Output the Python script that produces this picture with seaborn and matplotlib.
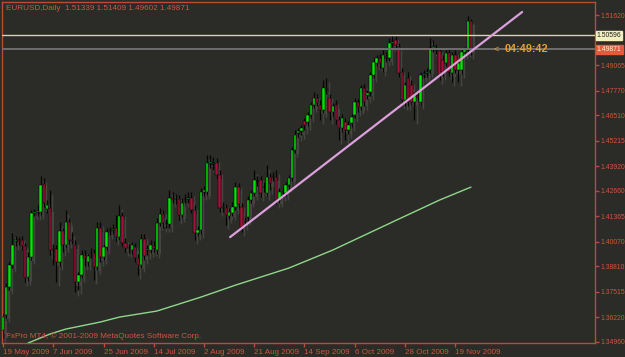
import numpy as np
import pandas as pd
import matplotlib
matplotlib.use("Agg")
import matplotlib.pyplot as plt
import seaborn as sns

# ---------------- data ----------------
opens = [1.3556, 1.3633, 1.3775, 1.3888, 1.4010, 1.4015, 1.4015, 1.3984, 1.3826, 1.3928,
         1.4153, 1.4158, 1.4158, 1.4301, 1.4173, 1.4178, 1.3969, 1.3969, 1.3903, 1.4061,
         1.3990, 1.4107, 1.4015, 1.3990, 1.3801, 1.3837, 1.3933, 1.3903, 1.3949, 1.3949,
         1.3877, 1.4076, 1.3928, 1.3979, 1.4061, 1.4066, 1.4076, 1.4030, 1.4137, 1.4000,
         1.3974, 1.3964, 1.3979, 1.3923, 1.3888, 1.4020, 1.3964, 1.3964, 1.3984, 1.3964,
         1.4102, 1.4148, 1.4102, 1.4097, 1.4229, 1.4224, 1.4224, 1.4142, 1.4224, 1.4224,
         1.4229, 1.4168, 1.4051, 1.4066, 1.4260, 1.4260, 1.4408, 1.4408, 1.4408, 1.4347,
         1.4183, 1.4178, 1.4137, 1.4153, 1.4183, 1.4285, 1.4183, 1.4107, 1.4132, 1.4219,
         1.4255, 1.4316, 1.4321, 1.4285, 1.4255, 1.4336, 1.4336, 1.4336, 1.4219, 1.4255,
         1.4255, 1.4296, 1.4331, 1.4474, 1.4561, 1.4571, 1.4622, 1.4617, 1.4653, 1.4704,
         1.4739, 1.4704, 1.4678, 1.4785, 1.4739, 1.4668, 1.4704, 1.4627, 1.4586, 1.4617,
         1.4576, 1.4612, 1.4653, 1.4719, 1.4693, 1.4790, 1.4755, 1.4770, 1.4857, 1.4918,
         1.4943, 1.4892, 1.4948, 1.4943, 1.5020, 1.5035, 1.4999, 1.4872, 1.4729, 1.4841,
         1.4806, 1.4719, 1.4749, 1.4719, 1.4857, 1.4867, 1.4882, 1.4994, 1.4984, 1.4979,
         1.4933, 1.4918, 1.4969, 1.4867, 1.4958, 1.4882, 1.4882, 1.4974, 1.4984, 1.51339]
highs = [1.3643, 1.3796, 1.3903, 1.4051, 1.4035, 1.4030, 1.4035, 1.4000, 1.3954, 1.4168,
         1.4173, 1.4193, 1.4341, 1.4331, 1.4219, 1.4270, 1.3995, 1.3990, 1.4107, 1.4076,
         1.4168, 1.4127, 1.4056, 1.4015, 1.3852, 1.3964, 1.3964, 1.3944, 1.3974, 1.3969,
         1.4107, 1.4107, 1.3995, 1.4076, 1.4081, 1.4097, 1.4142, 1.4193, 1.4158, 1.4025,
         1.3995, 1.4005, 1.4000, 1.3944, 1.4046, 1.4046, 1.3990, 1.4015, 1.4010, 1.4127,
         1.4178, 1.4168, 1.4122, 1.4270, 1.4260, 1.4250, 1.4245, 1.4229, 1.4250, 1.4260,
         1.4260, 1.4193, 1.4086, 1.4280, 1.4290, 1.4449, 1.4449, 1.4438, 1.4433, 1.4372,
         1.4209, 1.4199, 1.4178, 1.4209, 1.4311, 1.4306, 1.4204, 1.4132, 1.4239, 1.4270,
         1.4372, 1.4341, 1.4341, 1.4311, 1.4398, 1.4357, 1.4362, 1.4372, 1.4280, 1.4280,
         1.4311, 1.4347, 1.4489, 1.4576, 1.4586, 1.4602, 1.4637, 1.4668, 1.4719, 1.4770,
         1.4760, 1.4729, 1.4831, 1.4841, 1.4760, 1.4714, 1.4729, 1.4647, 1.4658, 1.4637,
         1.4622, 1.4658, 1.4739, 1.4734, 1.4806, 1.4811, 1.4780, 1.4872, 1.4943, 1.4958,
         1.4964, 1.4984, 1.4974, 1.5045, 1.5055, 1.5055, 1.5020, 1.4892, 1.4821, 1.4872,
         1.4831, 1.4770, 1.4780, 1.4872, 1.4882, 1.4892, 1.5045, 1.5035, 1.5015, 1.4994,
         1.4958, 1.4984, 1.4989, 1.4974, 1.4984, 1.4933, 1.4994, 1.4999, 1.5157, 1.51409]
lows = [1.3515, 1.3617, 1.3760, 1.3872, 1.3984, 1.3990, 1.3964, 1.3801, 1.3806, 1.3913,
        1.4137, 1.4137, 1.4142, 1.4183, 1.4153, 1.3939, 1.3888, 1.3801, 1.3882, 1.3954,
        1.3974, 1.3995, 1.3995, 1.3750, 1.3760, 1.3821, 1.3882, 1.3882, 1.3923, 1.3811,
        1.3862, 1.3903, 1.3913, 1.3964, 1.4041, 1.4046, 1.4010, 1.4015, 1.3984, 1.3954,
        1.3949, 1.3944, 1.3903, 1.3837, 1.3872, 1.3913, 1.3939, 1.3949, 1.3954, 1.3944,
        1.4086, 1.4076, 1.4076, 1.4076, 1.4204, 1.4199, 1.4117, 1.4127, 1.4204, 1.4204,
        1.4153, 1.4015, 1.4035, 1.4046, 1.4239, 1.4245, 1.4382, 1.4372, 1.4331, 1.4158,
        1.4158, 1.4091, 1.4122, 1.4137, 1.4168, 1.4178, 1.4056, 1.4086, 1.4112, 1.4204,
        1.4239, 1.4290, 1.4234, 1.4260, 1.4239, 1.4270, 1.4316, 1.4199, 1.4204, 1.4234,
        1.4239, 1.4280, 1.4316, 1.4459, 1.4540, 1.4551, 1.4576, 1.4596, 1.4637, 1.4688,
        1.4698, 1.4627, 1.4663, 1.4760, 1.4627, 1.4647, 1.4607, 1.4525, 1.4566, 1.4525,
        1.4556, 1.4591, 1.4637, 1.4668, 1.4678, 1.4698, 1.4734, 1.4749, 1.4841, 1.4902,
        1.4892, 1.4872, 1.4923, 1.4928, 1.4999, 1.4989, 1.4846, 1.4709, 1.4698, 1.4698,
        1.4704, 1.4627, 1.4729, 1.4704, 1.4841, 1.4846, 1.4867, 1.4974, 1.4964, 1.4831,
        1.4851, 1.4902, 1.4851, 1.4821, 1.4867, 1.4821, 1.4862, 1.4958, 1.4969, 1.49602]
closes = [1.3622, 1.3775, 1.3888, 1.3990, 1.4015, 1.4010, 1.3984, 1.3821, 1.3928, 1.4153,
          1.4158, 1.4163, 1.4296, 1.4204, 1.4193, 1.3964, 1.3964, 1.3903, 1.4061, 1.3990,
          1.4107, 1.4015, 1.4010, 1.3801, 1.3837, 1.3939, 1.3923, 1.3933, 1.3947, 1.3877,
          1.4076, 1.3928, 1.3979, 1.4056, 1.4058, 1.4071, 1.4030, 1.4137, 1.4000, 1.3974,
          1.3972, 1.3990, 1.3923, 1.3888, 1.4020, 1.3933, 1.3969, 1.3990, 1.3974, 1.4102,
          1.4148, 1.4102, 1.4100, 1.4229, 1.4224, 1.4226, 1.4142, 1.4204, 1.4226, 1.4229,
          1.4168, 1.4051, 1.4066, 1.4260, 1.4270, 1.4408, 1.4413, 1.4403, 1.4347, 1.4178,
          1.4181, 1.4142, 1.4158, 1.4183, 1.4285, 1.4199, 1.4081, 1.4105, 1.4219, 1.4255,
          1.4321, 1.4318, 1.4255, 1.4287, 1.4336, 1.4306, 1.4334, 1.4219, 1.4260, 1.4257,
          1.4296, 1.4331, 1.4474, 1.4551, 1.4571, 1.4586, 1.4602, 1.4653, 1.4704, 1.4739,
          1.4714, 1.4678, 1.4790, 1.4780, 1.4668, 1.4698, 1.4627, 1.4586, 1.4637, 1.4576,
          1.4602, 1.4642, 1.4719, 1.4693, 1.4790, 1.4719, 1.4765, 1.4857, 1.4923, 1.4943,
          1.4918, 1.4958, 1.4943, 1.5020, 1.5025, 1.5009, 1.4867, 1.4729, 1.4806, 1.4719,
          1.4719, 1.4755, 1.4747, 1.4857, 1.4862, 1.4872, 1.4994, 1.4999, 1.4982, 1.4857,
          1.4872, 1.4969, 1.4872, 1.4958, 1.4882, 1.4918, 1.4974, 1.4984, 1.5132, 1.49871]

date_labels = ["19 May 2009", "7 Jun 2009", "25 Jun 2009", "14 Jul 2009", "2 Aug 2009",
               "21 Aug 2009", "14 Sep 2009", "6 Oct 2009", "28 Oct 2009", "19 Nov 2009"]
date_label_bars = [0, 16, 32, 48, 64, 80, 96, 112, 128, 144]

price_ticks = [1.51620, 1.49065, 1.47770, 1.46510, 1.45215, 1.43920, 1.42660,
               1.41365, 1.40070, 1.38810, 1.37515, 1.36220, 1.34960]

ma_bars = [8, 15, 20, 31, 37, 49, 63, 74, 91, 105, 126, 139, 149]
ma_values = [1.3490, 1.3536, 1.3561, 1.3597, 1.3622, 1.3653, 1.3724, 1.3785,
             1.3872, 1.3964, 1.4122, 1.4219, 1.4285]

trend_bars = [72.3, 165.3]
trend_values = [1.4030, 1.5178]

level_line = 1.50596
bid_price = 1.49871
timer_text = "04:49:42"
header_text = "EURUSD,Daily  1.51339 1.51409 1.49602 1.49871"
copyright_text = "FxPro MT4, \u00a9 2001-2009 MetaQuotes Software Corp."

# ---------------- styling ----------------
BG = "#2b2b28"
AXC = "#b84c36"
TXT = "#d4553a"
BULL = "#00e800"
BEAR = "#a3123a"
SHADOW = "#45453f"

sns.set_theme(style="dark", rc={"axes.facecolor": BG, "figure.facecolor": BG})
plt.rcParams["font.family"] = ["Liberation Sans", "DejaVu Sans"]

df = pd.DataFrame({"open": opens, "high": highs, "low": lows, "close": closes})
df["bar"] = np.arange(len(df))
df["bull"] = df["close"] >= df["open"]

fig = plt.figure(figsize=(6.25, 3.57), dpi=100)
ax = fig.add_axes([2 / 625, 14 / 357, 593 / 625, 341 / 357])
ax.set_facecolor(BG)
ax.set_xlim(-0.32, 188.5)
ax.set_ylim(1.3490, 1.5229)

# shadows
sh_dx, sh_dy = 0.75, -0.0020
ax.vlines(df["bar"] + sh_dx, df["low"] + sh_dy, df["high"] + sh_dy, color=SHADOW, lw=1.0, zorder=1)
body_lo = np.minimum(df["open"], df["close"])
body_h = np.maximum(np.abs(df["close"] - df["open"]), 0.00025)
ax.bar(df["bar"] + sh_dx, body_h, bottom=body_lo + sh_dy, width=0.8, color=SHADOW,
       linewidth=0, zorder=1)

# wicks & bodies
ax.vlines(df["bar"], df["low"], df["high"], color="#050505", lw=0.9, zorder=2)
colors = np.where(df["bull"], BULL, BEAR)
ax.bar(df["bar"], body_h, bottom=body_lo, width=0.8, color=colors,
       edgecolor="#000000", linewidth=0.35, zorder=3)

# moving average & trend line
sns.lineplot(x=ma_bars, y=ma_values, ax=ax, color="#8fd88a", lw=1.0, zorder=4)
sns.lineplot(x=trend_bars, y=trend_values, ax=ax, color="#dca0dc", lw=1.6, zorder=5)

# horizontal levels
ax.axhline(level_line, color="#d8d89a", lw=1.0, zorder=4)
ax.axhline(bid_price, color="#6e6e6e", lw=1.4, zorder=4)

# countdown
ax.text(156.2, bid_price, "<", color="#e89a28", fontsize=6.5, va="center", ha="left", zorder=6)
ax.text(159.8, bid_price, timer_text, color="#e8a030", fontsize=7.8, va="center", ha="left",
        fontweight="bold", zorder=6)

# axes styling
for s in ax.spines.values():
    s.set_color(AXC)
    s.set_linewidth(1.0)
    s.set_visible(True)
ax.yaxis.tick_right()
ax.set_yticks(price_ticks)
ax.set_yticklabels([f"{v:.5f}" for v in price_ticks])
ax.set_xticks(date_label_bars)
ax.set_xticklabels(date_labels, ha="left")
ax.tick_params(axis="y", which="both", right=True, left=False, length=3, width=1, color=AXC,
               labelcolor=TXT, labelsize=4.9, pad=1)
ax.tick_params(axis="x", which="both", bottom=True, length=3, width=1, color=AXC,
               labelcolor=TXT, labelsize=5.8, pad=1)
for lab in ax.get_xticklabels():
    lab.set_horizontalalignment("left")
ax.grid(False)
ax.set_xlabel("")
ax.set_ylabel("")

# price tag boxes on right axis
tr = ax.get_yaxis_transform()
ax.text(1.003, level_line, f"{level_line:.5f}", transform=tr, fontsize=4.9, color="#202020",
        va="center", ha="left", clip_on=False, zorder=10,
        bbox=dict(boxstyle="square,pad=0.15", fc="#f2f0c0", ec="#f2f0c0"))
ax.text(1.003, bid_price, f"{bid_price:.5f}", transform=tr, fontsize=4.9, color="#fff0e8",
        va="center", ha="left", clip_on=False, zorder=10,
        bbox=dict(boxstyle="square,pad=0.15", fc="#e8583a", ec="#e8583a"))

# header and copyright
fig.text(6 / 625, 1 - 8 / 357, header_text, color=TXT, fontsize=5.9, va="center", ha="left")
fig.text(6 / 625, 1 - 336 / 357, copyright_text, color=TXT, fontsize=5.9, va="center", ha="left")

fig.savefig("out.png", dpi=100, facecolor=BG)
